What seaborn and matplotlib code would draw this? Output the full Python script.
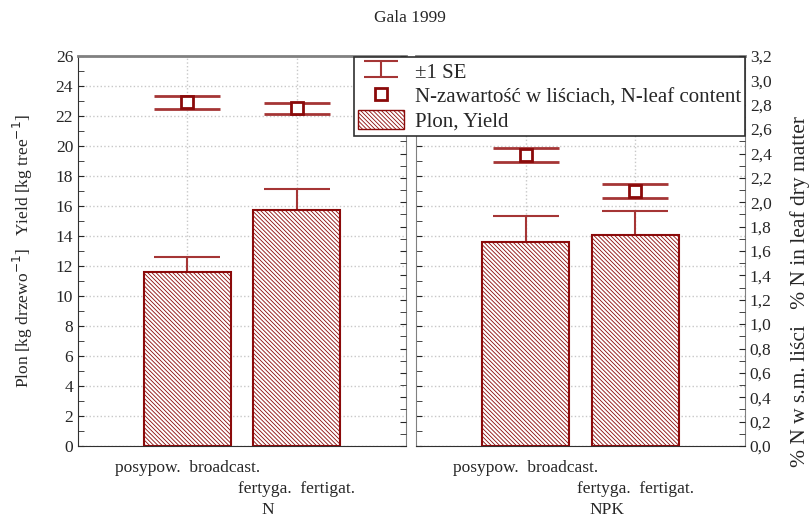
import numpy as np
import pandas as pd
import matplotlib
matplotlib.use('Agg')
import matplotlib.pyplot as plt
import matplotlib.ticker as mticker
from matplotlib.lines import Line2D
from matplotlib.patches import Patch
from matplotlib.collections import LineCollection
from matplotlib.container import ErrorbarContainer
from matplotlib.legend_handler import HandlerErrorbar
import seaborn as sns

groups = ['N', 'NPK']
methods = ['posypow.  broadcast.', 'fertyga.  fertigat.']
yield_mean = [[11.6, 15.75], [13.6, 14.1]]
yield_se = [[0.97, 1.38], [1.73, 1.58]]
nleaf_mean = [[2.82, 2.77], [2.39, 2.09]]
nleaf_se = [[0.053, 0.048], [0.058, 0.056]]

dark_red = '#8b0a0a'
err_red = '#a53535'
sns.set_style('ticks')
plt.rcParams['font.family'] = ['Liberation Serif', 'DejaVu Serif']
plt.rcParams['hatch.linewidth'] = 0.6
plt.rcParams['hatch.color'] = dark_red
fs = 12.5
fs_big = 15

fig = plt.figure(figsize=(8.1, 5.2), dpi=100)
ax_pos = [[78, 406], [416, 745]]
axes = []
for i, g in enumerate(groups):
    x0, x1 = ax_pos[i]
    ax = fig.add_axes([x0 / 810, 74 / 520, (x1 - x0) / 810, 390 / 520])
    df = pd.DataFrame({'method': methods, 'yield': yield_mean[i]})
    ax.errorbar(np.arange(2), yield_mean[i], yerr=yield_se[i], fmt='none',
                ecolor=err_red, elinewidth=1.5, capsize=24, capthick=1.5, zorder=1)
    sns.barplot(data=df, x='method', y='yield', ax=ax, color='white', width=0.79,
                edgecolor=dark_red, linewidth=1.5, hatch='\\' * 8, zorder=2)
    ax.set_xlim(-1, 2)
    ax.set_ylim(0, 26)
    # two-row category labels: first on major tick, second on minor tick
    ax.set_xticks([0], labels=[methods[0]])
    ax.set_xticks([1], labels=[methods[1]], minor=True)
    ax.yaxis.set_major_locator(mticker.MultipleLocator(2))
    ax.yaxis.set_minor_locator(mticker.MultipleLocator(1))
    ax.grid(True, which='major', color='#c8c8c8', linestyle=':', linewidth=1.0)
    ax.xaxis.grid(True, which='minor', color='#c8c8c8', linestyle=':', linewidth=1.0)
    ax.set_axisbelow(True)
    ax.tick_params(axis='both', which='both', direction='in', labelsize=fs, length=4)
    ax.tick_params(axis='x', which='major', length=0, pad=10)
    ax.tick_params(axis='x', which='minor', length=0, pad=25)
    ax.set_ylabel('')
    ax.set_xlabel(g, fontsize=fs)
    ax.xaxis.set_label_coords(0.58, -0.165)
    ax.xaxis.label.set_va('center')
    for s in ['top', 'right', 'left']:
        ax.spines[s].set_color('#808080')
    ax.spines['top'].set_linewidth(2)
    ax.spines['bottom'].set_color('#303030')

    ax2 = ax.twinx()
    ax2.errorbar(np.arange(2), nleaf_mean[i], yerr=nleaf_se[i], fmt='s', color=err_red,
                 ecolor=err_red, elinewidth=1.5, capsize=24, capthick=1.5,
                 markersize=8.5, markerfacecolor='white', markeredgecolor=dark_red,
                 markeredgewidth=2, zorder=5)
    ax2.set_ylim(0, 3.2)
    ax2.yaxis.set_major_locator(mticker.MultipleLocator(0.2))
    ax2.yaxis.set_minor_locator(mticker.MultipleLocator(0.1))
    ax2.yaxis.set_major_formatter(mticker.FuncFormatter(lambda v, p: f'{v:.1f}'.replace('.', ',')))
    ax2.tick_params(axis='y', which='both', direction='in', labelsize=fs, length=4)
    for s in ax2.spines.values():
        s.set_visible(False)
    if i == 0:
        ax2.tick_params(axis='y', which='both', labelright=False)
        ax.spines['left'].set_color('#303030')
    else:
        ax.tick_params(axis='y', which='both', labelleft=False)
    axes.append(ax)

ax = axes[0]
ax.set_ylabel('Plon [kg drzewo$^{-1}$]   Yield [kg tree$^{-1}$]', fontsize=12.5)
ax.yaxis.set_label_coords(-0.13, 0.5)
fig.text(0.988, 0.44, '% N w s.m. liści   % N in leaf dry matter', rotation=90,
         fontsize=15.5, ha='center', va='center')
fig.text(0.506, 0.965, 'Gala 1999', fontsize=fs, ha='center', va='center')

# legend proxies
cap = Line2D([], [], marker='_', markersize=24, color=err_red, markeredgewidth=1.5)
se_handle = ErrorbarContainer((None, (cap, cap), (LineCollection([], colors=err_red, linewidths=1.5),)),
                              has_xerr=False, has_yerr=True)
handles = [se_handle,
           Line2D([], [], marker='s', linestyle='none', markersize=8.5, markerfacecolor='white',
                  markeredgecolor=dark_red, markeredgewidth=2),
           Patch(facecolor='white', edgecolor=dark_red, hatch='\\' * 8, linewidth=1)]
labels = ['±1 SE', 'N-zawartość w liściach, N-leaf content', 'Plon, Yield']
leg = fig.legend(handles, labels, loc='upper right', bbox_to_anchor=(745 / 810, 1 - 57 / 520),
                 fontsize=fs_big, frameon=True, fancybox=False, framealpha=1, borderaxespad=0,
                 handlelength=2.2, handleheight=1.0, labelspacing=0.15, borderpad=0.2,
                 handletextpad=0.5, handler_map={ErrorbarContainer: HandlerErrorbar(yerr_size=0.38)})
leg.get_frame().set_edgecolor('#303030')
leg.get_frame().set_linewidth(1.2)
leg.set_zorder(10)

fig.savefig('out.png', dpi=100)
